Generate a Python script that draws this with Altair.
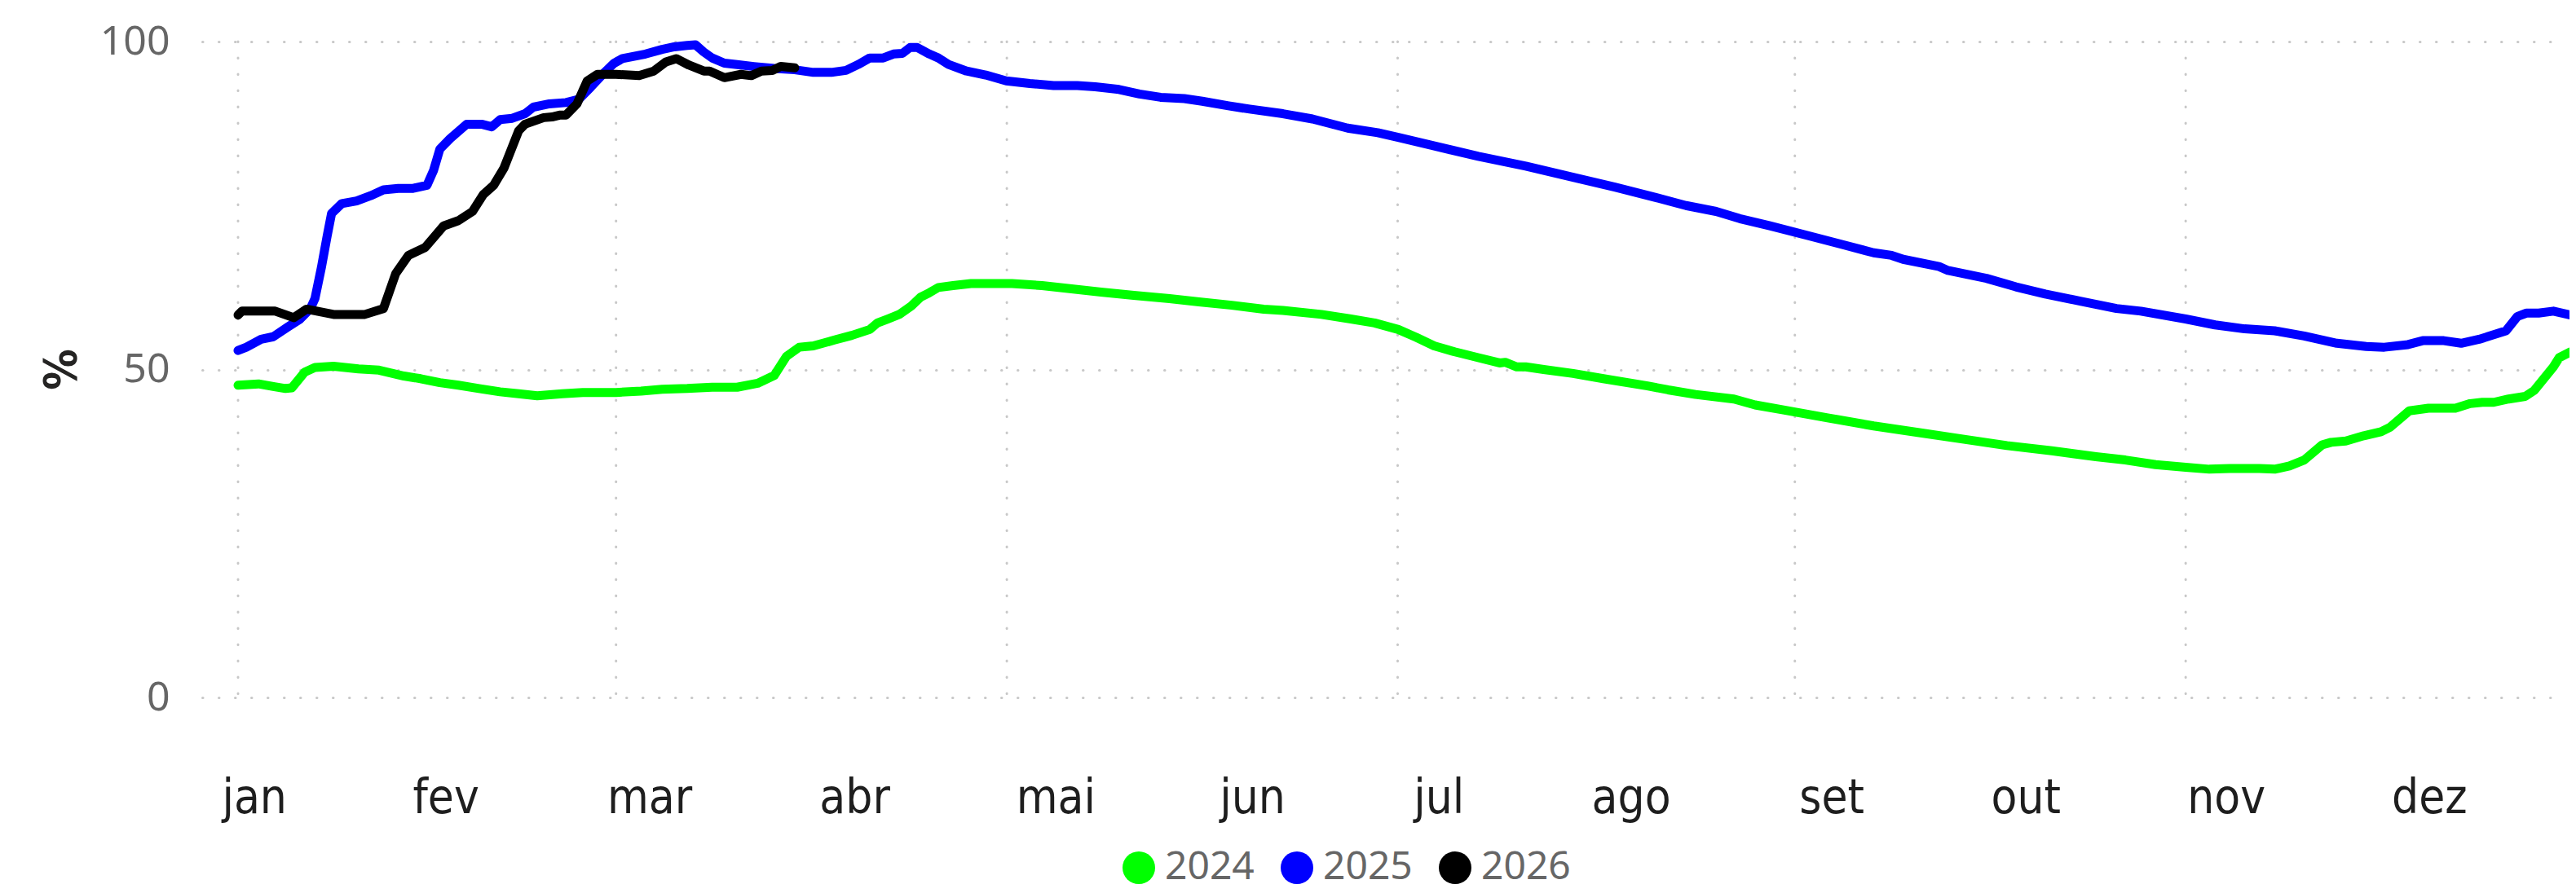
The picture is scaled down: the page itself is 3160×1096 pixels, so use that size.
import altair as alt
import pandas as pd

# ---- data (day of year, 0 = 1 Jan) ----
days_2024 = [0, 3.2, 5.5, 7.4, 8.4, 10.4, 12.0, 14.9, 18.8, 22.0, 25.9, 28.5, 31.5, 34.4, 37.6,
             40.9, 43.8, 46.7, 50.6, 53.8, 59.0, 62.9, 66.2, 70.1, 74.0, 77.9, 81.1, 83.7, 85.6,
             87.6, 89.8, 93.1, 95.8, 98.6, 99.8, 101.4, 103.2, 105.1, 106.5, 107.9, 109.3, 111.6,
             114.4, 120.8, 125.5, 130.1, 134.7, 139.8, 145.4, 150.0, 155.1, 160.1, 163.1, 169.1,
             173.7, 177.4, 181.1, 183.9, 186.7, 189.9, 193.6, 196.9, 197.8, 199.6, 201.0, 203.8,
             208.4, 213.1, 220.0, 223.2, 227.5, 233.5, 236.8, 241.4, 248.3, 255.3, 262.2, 269.2,
             276.1, 283.1, 290.0, 294.6, 299.3, 304.0, 307.7, 310.9, 315.5, 317.9, 320.2, 322.5,
             325.3, 326.7, 329.0, 331.8, 334.5, 335.9, 338.9, 341.9, 346.1, 348.4, 350.3, 352.1,
             354.4, 357.0, 358.4, 361.4, 362.3, 364.1]
vals_2024 = [47.6, 47.8, 47.4, 47.1, 47.2, 49.6, 50.3, 50.5, 50.1, 49.9, 49.0, 48.6, 48.0, 47.6, 47.1,
             46.6, 46.3, 46.0, 46.3, 46.5, 46.5, 46.7, 47.0, 47.1, 47.3, 47.3, 47.9, 49.1, 52.0,
             53.4, 53.6, 54.5, 55.2, 56.1, 57.1, 57.7, 58.4, 59.7, 61.0, 61.7, 62.5, 62.8,
             63.1, 63.1, 62.8, 62.3, 61.8, 61.3, 60.8, 60.3, 59.8, 59.2, 59.0, 58.4,
             57.7, 57.1, 56.1, 54.9, 53.6, 52.7, 51.8, 51.0, 51.1, 50.4, 50.4, 50.0,
             49.4, 48.6, 47.5, 46.9, 46.2, 45.5, 44.6, 43.8, 42.6, 41.4, 40.4, 39.4,
             38.4, 37.6, 36.7, 36.2, 35.5, 35.1, 34.8, 34.9, 34.9, 34.8, 35.3, 36.2,
             38.5, 38.9, 39.1, 39.9, 40.5, 41.2, 43.7, 44.1, 44.1, 44.8, 45.0, 45.0,
             45.5, 45.9, 46.8, 50.4, 51.8, 52.7]

days_2025 = [0, 1.3, 3.6, 5.5, 7.8, 9.7, 11.3, 12.0, 13.0, 13.9, 14.6, 16.2, 18.5, 20.7, 22.7, 25.0,
             27.2, 29.5, 30.5, 31.5, 33.1, 35.7, 38.0, 39.6, 40.9, 42.8, 44.8, 46.1, 48.6, 51.2,
             53.2, 55.1, 57.1, 58.7, 60.0, 63.6, 66.2, 68.1, 70.1, 71.4, 72.7, 74.0, 75.9, 77.9,
             80.5, 83.7, 86.9, 89.8, 92.6, 94.9, 96.8, 98.6, 100.7, 102.3, 103.7, 104.9, 106.0,
             107.9, 109.3, 110.9, 113.7, 116.7, 119.9, 123.6, 127.3, 131.0, 133.8, 137.5, 140.7,
             144.0, 147.7, 150.5, 154.6, 157.9, 163.1, 167.7, 173.2, 177.9, 181.1, 186.2, 193.6,
             201.0, 208.4, 214.9, 221.4, 226.0, 230.7, 234.4, 239.1, 245.1, 250.6, 255.3, 258.1,
             259.9, 265.5, 266.9, 272.9, 277.5, 282.1, 287.7, 293.2, 297.0, 304.0, 308.6, 313.2,
             317.9, 322.5, 327.6, 332.2, 335.0, 338.7, 341.0, 344.3, 347.0, 349.8, 354.0, 355.8,
             357.2, 359.1, 361.4, 364.1]
vals_2025 = [52.9, 53.4, 54.6, 55.0, 56.5, 57.7, 59.3, 60.8, 65.5, 70.3, 73.8, 75.3, 75.7, 76.5, 77.4, 77.6,
             77.6, 78.1, 80.3, 83.6, 85.2, 87.4, 87.4, 87.0, 88.1, 88.3, 89.0, 90.0, 90.5, 90.7,
             91.2, 93.1, 95.2, 96.7, 97.4, 98.1, 98.8, 99.2, 99.4, 99.5, 98.4, 97.5, 96.7, 96.5,
             96.2, 95.9, 95.7, 95.3, 95.3, 95.6, 96.5, 97.5, 97.5, 98.1, 98.2, 99.1, 99.1,
             98.1, 97.5, 96.5, 95.5, 94.9, 94.0, 93.6, 93.3, 93.3, 93.1, 92.7, 92.0,
             91.5, 91.3, 90.9, 90.2, 89.7, 89.0, 88.2, 86.8, 86.1, 85.4, 84.2, 82.5,
             81.0, 79.3, 77.8, 76.2, 75.0, 74.1, 73.0, 71.9, 70.4, 69.0, 67.8, 67.4,
             66.8, 65.7, 65.1, 63.9, 62.6, 61.5, 60.4, 59.3, 58.9, 57.7, 56.8, 56.2,
             55.9, 55.1, 54.0, 53.5, 53.4, 53.8, 54.4, 54.4, 54.0, 54.6, 55.9, 58.1,
             58.6, 58.6, 58.9, 58.3]

days_2026 = [0, 0.6, 5.8, 8.7, 10.7, 14.9, 19.8, 22.7, 24.6, 26.6, 29.2, 32.1, 34.4, 36.6, 38.3,
             39.9, 41.5, 43.8, 44.8, 47.7, 49.0, 50.3, 51.2, 52.9, 54.5, 56.1, 59.0, 62.6, 64.9,
             66.8, 68.4, 70.4, 72.7, 73.6, 75.9, 78.5, 80.1, 81.7, 83.4, 84.7, 86.9]
vals_2026 = [58.3, 58.9, 58.9, 57.9, 59.2, 58.4, 58.4, 59.3, 64.6, 67.4, 68.6, 71.9, 72.7, 74.1, 76.7,
             78.1, 80.7, 86.4, 87.4, 88.4, 88.5, 88.8, 88.8, 90.5, 94.0, 95.0, 95.0, 94.8, 95.5,
             96.9, 97.4, 96.4, 95.5, 95.5, 94.5, 95.0, 94.8, 95.5, 95.6, 96.2, 96.0]

series_names = ["2024", "2025", "2026"]
series_colors = ["#00FF00", "#0000FF", "#000000"]

grid_days = [0, 59, 120, 181, 243, 304]
label_days = [2.5, 32.4, 64.2, 96.2, 127.6, 158.3, 187.4, 217.4, 248.7, 279.0, 310.3, 342.0]
month_labels = ["jan", "fev", "mar", "abr", "mai", "jun", "jul", "ago", "set", "out", "nov", "dez"]
y_ticks = [0, 50, 100]

rows = []
for name, ds, vs in zip(series_names, [days_2024, days_2025, days_2026],
                        [vals_2024, vals_2025, vals_2026]):
    rows += [{"dia": d, "pct": v, "ano": name} for d, v in zip(ds, vs)]
df = pd.DataFrame(rows)
grid_df = pd.DataFrame({"dia": grid_days})

label_expr = "[{}][indexof([{}], datum.value)]".format(
    ",".join("'%s'" % m for m in month_labels), ",".join(str(d) for d in label_days))

x_scale = alt.Scale(domain=[-5.6, 363.4], nice=False, zero=False)
y_scale = alt.Scale(domain=[0, 100], nice=False)
color_scale = alt.Scale(domain=series_names, range=series_colors)
grid_color = "#C8C8C8"

vgrid = alt.Chart(grid_df).mark_rule(
    color=grid_color, strokeWidth=3, strokeDash=[0.5, 19.5], strokeCap="round"
).encode(x=alt.X("dia:Q", scale=x_scale))

lines = alt.Chart(df).mark_line(strokeWidth=11, strokeCap="round", strokeJoin="round").encode(
    x=alt.X("dia:Q", scale=x_scale,
            axis=alt.Axis(values=label_days, labelExpr=label_expr, grid=False, ticks=False,
                          tickSize=0, domain=False, title=None,
                          labelFont="DejaVu Sans Condensed, Liberation Sans Narrow, Roboto",
                          labelFontSize=58, labelColor="#1E1E1E", labelPadding=141,
                          labelBaseline="alphabetic", labelFlush=False, labelOverlap=False)),
    y=alt.Y("pct:Q", scale=y_scale,
            axis=alt.Axis(values=y_ticks, grid=True, gridColor=grid_color, gridWidth=3,
                          gridDash=[0.5, 19.5], gridCap="round", ticks=False, tickSize=0,
                          domain=False, labelFont="Noto Sans", labelFontSize=50,
                          labelColor="#666666", labelPadding=40,
                          title="%", titleFont="DejaVu Sans Condensed", titleFontWeight="bold",
                          titleFontSize=56, titleColor="#252423", titleAngle=270,
                          titleX=-173, titleY=402, titleAlign="center", titleBaseline="middle")),
    color=alt.Color("ano:N", scale=color_scale, legend=None),
)

# point layer that only carries the legend (filled circles); its rows are filtered out
legend_layer = alt.Chart(df).transform_filter("datum.pct < 0").mark_circle(opacity=1).encode(
    x=alt.X("dia:Q", scale=x_scale),
    y=alt.Y("pct:Q", scale=y_scale),
    color=alt.Color("ano:N", scale=color_scale,
                    legend=alt.Legend(orient="none", legendX=1125, legendY=990,
                                      direction="horizontal", title=None, symbolType="circle",
                                      symbolSize=1600, symbolStrokeWidth=0, symbolOpacity=1,
                                      labelFont="Noto Sans", labelFontSize=48,
                                      labelColor="#666666", labelOffset=8,
                                      columnPadding=28, padding=0)),
)

chart = alt.layer(vgrid, lines, legend_layer).resolve_legend(color="independent").properties(
    width=2900, height=805,
    padding={"left": 240, "top": 43, "right": 4, "bottom": 240},
    autosize=alt.AutoSizeParams(type="none"),
    background="white",
).configure_view(strokeWidth=0)

chart.save("out.html", embed_options={"renderer": "svg", "actions": False})
